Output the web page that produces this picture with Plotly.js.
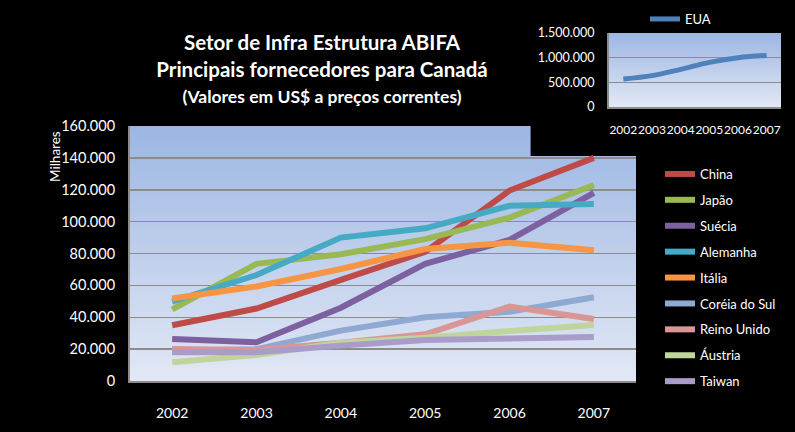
<!DOCTYPE html>
<html>
<head>
<meta charset="utf-8">
<script src="https://cdn.plot.ly/plotly-3.0.1.min.js"></script>
<style>
html,body{margin:0;padding:0;background:#000;}
#chart{width:795px;height:432px;}
</style>
</head>
<body>
<div id="chart"></div>
<script>
// ---- data ----
const years = ['2002','2003','2004','2005','2006','2007'];
const seriesNames = ['China','Japão','Suécia','Alemanha','Itália','Coréia do Sul','Reino Unido','Áustria','Taiwan'];
const china      = [35000, 45500, 63500, 81000, 119500, 140000];
const japao      = [45000, 73500, 79500, 89000, 102500, 123000];
const suecia     = [26300, 24300, 46000, 73500, 88500, 118000];
const alemanha   = [49800, 66500, 90000, 95800, 110000, 111000];
const italia     = [51800, 59300, 70300, 82800, 86800, 82000];
const coreia     = [19000, 20000, 31600, 40000, 43500, 52500];
const reinoUnido = [20000, 19500, 24000, 29300, 46700, 38900];
const austria    = [11700, 16300, 24000, 27200, 31400, 35100];
const taiwan     = [18000, 18000, 22200, 25700, 26600, 27600];
const eua        = [569000, 636000, 763000, 904000, 1000000, 1045000];
const mainTicks  = [0, 20000, 40000, 60000, 80000, 100000, 120000, 140000, 160000];
const insetTicks = [0, 500000, 1000000, 1500000];

const seriesValues = [china, japao, suecia, alemanha, italia, coreia, reinoUnido, austria, taiwan];
const seriesColors = ['#BE4B48','#98B954','#7D60A0','#46AAC5','#F69544','#8FA9D3','#D99694','#BFD59C','#A99CC8'];

const FONT = 'Lato, "Open Sans", sans-serif';

const traces = seriesNames.map((n, i) => ({
  type: 'scatter', mode: 'lines', name: n,
  x: years, y: seriesValues[i],
  xaxis: 'x', yaxis: 'y',
  legendgroup: 'g' + i,
  line: {color: seriesColors[i], width: 6},
  hoverinfo: 'x+y+name'
}));
traces.push({
  type: 'scatter', mode: 'lines', name: 'EUA',
  x: years, y: eua, xaxis: 'x2', yaxis: 'y2',
  legend: 'legend2',
  line: {color: '#4F81BD', width: 5, shape: 'spline'}
});

function grad(top, bottom) {
  const svg = "<svg xmlns='http://www.w3.org/2000/svg' width='100' height='100' preserveAspectRatio='none'>" +
    "<defs><linearGradient id='g' x1='0' y1='0' x2='0' y2='1'>" +
    "<stop offset='0' stop-color='" + top + "'/><stop offset='1' stop-color='" + bottom + "'/>" +
    "</linearGradient></defs><rect width='100' height='100' fill='url(#g)'/></svg>";
  return 'data:image/svg+xml;charset=utf-8,' + encodeURIComponent(svg);
}

// pixel layout
const W = 795, H = 432;
const mL = 130, mR = 14, mT = 33, mB = 51;
const pw = W - mL - mR, ph = H - mT - mB;
const px = x => (x - mL) / pw;
const py = y => (H - mB - y) / ph;

const mainX = [0, px(636)], mainY = [0, py(126)];
const insX = [px(609), 1], insY = [py(107), 1];

const layout = {
  width: W, height: H,
  margin: {l: mL, r: mR, t: mT, b: mB, autoexpand: false},
  paper_bgcolor: '#000000',
  plot_bgcolor: 'rgba(0,0,0,0)',
  separators: ',.',
  font: {family: FONT, color: '#FFFFFF', size: 13},
  title: {
    text: 'Setor de Infra Estrutura ABIFA<br>Principais fornecedores para Canadá<br><span style="font-size:17.5px">(Valores em US$ a preços correntes)</span>',
    font: {family: FONT, size: 20.5, color: '#FFFFFF', weight: 'bold'},
    x: 322 / W, xanchor: 'center', xref: 'container',
    y: 1 - 50 / H, yanchor: 'top', yref: 'container'
  },
  xaxis: {
    domain: mainX, anchor: 'y', type: 'category', range: [-0.5, 5.5],
    tickmode: 'array', tickvals: years,
    showgrid: false, showline: true, linecolor: '#8C8C8C', linewidth: 2,
    ticks: 'outside', ticklen: 18, tickcolor: 'rgba(0,0,0,0)',
    tickfont: {family: FONT, size: 14, color: '#FFFFFF'},
    zeroline: false, fixedrange: true
  },
  yaxis: {
    domain: mainY, anchor: 'x', range: [0, 160000],
    tickvals: mainTicks, tickformat: ',d',
    showgrid: true, gridcolor: '#8C8C8C', gridwidth: 1.5,
    showline: true, linecolor: '#8C8C8C', linewidth: 2,
    ticks: 'outside', ticklen: 10, tickcolor: 'rgba(0,0,0,0)',
    tickfont: {family: FONT, size: 14.5, color: '#FFFFFF'},
    zeroline: false, fixedrange: true
  },
  xaxis2: {
    domain: insX, anchor: 'y2', type: 'category', range: [-0.5, 5.5],
    tickmode: 'array', tickvals: years, tickangle: 0,
    showgrid: false, showline: true, linecolor: '#8C8C8C', linewidth: 2,
    ticks: 'outside', ticklen: 11, tickcolor: 'rgba(0,0,0,0)',
    tickfont: {family: FONT, size: 12, color: '#FFFFFF'},
    zeroline: false, fixedrange: true
  },
  yaxis2: {
    domain: insY, anchor: 'x2', range: [0, 1500000],
    tickvals: insetTicks, tickformat: ',d',
    showgrid: true, gridcolor: '#8C8C8C', gridwidth: 1.5,
    showline: true, linecolor: '#8C8C8C', linewidth: 2,
    ticks: 'outside', ticklen: 10, tickcolor: 'rgba(0,0,0,0)',
    tickfont: {family: FONT, size: 12.5, color: '#FFFFFF'},
    zeroline: false, fixedrange: true
  },
  legend: {
    x: px(660), xanchor: 'left', y: py(159), yanchor: 'top',
    bgcolor: 'rgba(0,0,0,0)', font: {family: FONT, size: 13, color: '#FFFFFF'},
    tracegroupgap: 6, itemwidth: 30
  },
  legend2: {
    xref: 'container', yref: 'container',
    x: 645 / W, xanchor: 'left', y: 1 - 4 / H, yanchor: 'top',
    bgcolor: 'rgba(0,0,0,0)', font: {family: FONT, size: 13, color: '#FFFFFF'},
    itemwidth: 30
  },
  images: [
    {source: grad('#9CB6E3', '#E2E8F5'), xref: 'paper', yref: 'paper',
     x: mainX[0], y: mainY[1], sizex: mainX[1] - mainX[0], sizey: mainY[1] - mainY[0],
     sizing: 'stretch', xanchor: 'left', yanchor: 'top', layer: 'below'},
    {source: grad('#9CB6E3', '#E2E8F5'), xref: 'paper', yref: 'paper',
     x: insX[0], y: insY[1], sizex: insX[1] - insX[0], sizey: insY[1] - insY[0],
     sizing: 'stretch', xanchor: 'left', yanchor: 'top', layer: 'below'}
  ],
  shapes: [
    {type: 'rect', xref: 'x', yref: 'y', layer: 'between',
     x0: 4.25, x1: 5.5, y0: 141100, y1: 160000,
     fillcolor: '#000000', line: {width: 0}}
  ],
  annotations: [
    {text: 'Milhares', xref: 'paper', yref: 'paper', x: px(55), y: py(157),
     xanchor: 'center', yanchor: 'middle', textangle: -90, showarrow: false,
     font: {family: FONT, size: 13.5, color: '#FFFFFF'}}
  ]
};

Plotly.newPlot('chart', traces, layout, {displayModeBar: false, staticPlot: true});
</script>
</body>
</html>
